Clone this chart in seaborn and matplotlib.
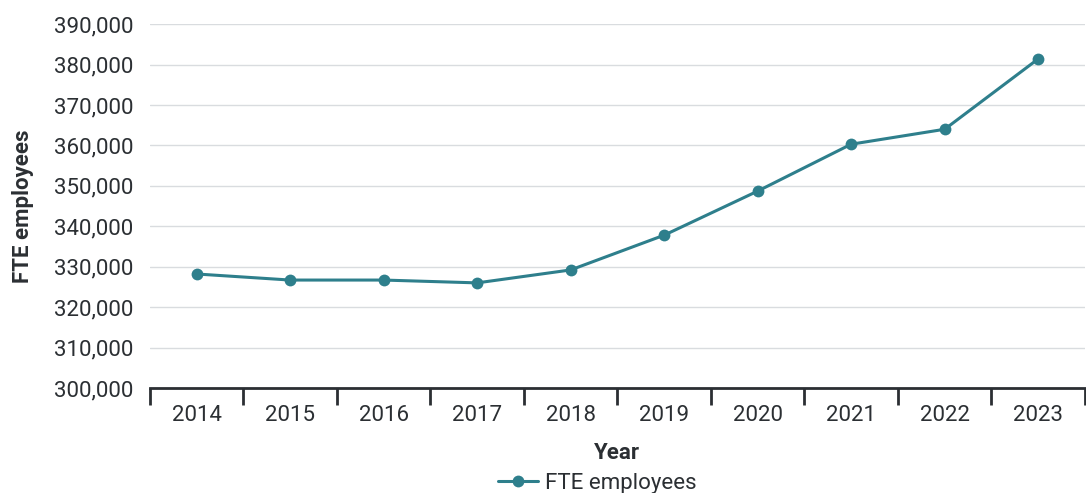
import matplotlib
matplotlib.use("Agg")
import matplotlib.pyplot as plt
import seaborn as sns
import pandas as pd
from matplotlib.ticker import FuncFormatter, FixedLocator

years = ["2014", "2015", "2016", "2017", "2018", "2019", "2020", "2021", "2022", "2023"]
fte = [328200, 326700, 326700, 326000, 329200, 337800, 348700, 360300, 364000, 381400]

teal = "#2E7F8C"
ink = "#2b2f33"

sns.set_theme(style="white")
plt.rcParams["font.family"] = ["Roboto", "DejaVu Sans"]

df = pd.DataFrame({"Year": years, "FTE employees": fte})

fig = plt.figure(figsize=(10.86, 4.93), dpi=100)
ax = fig.add_axes([0.138, 0.213, 0.861, 0.738])

sns.lineplot(data=df, x="Year", y="FTE employees", ax=ax, color=teal,
             marker="o", markersize=8.5, markeredgewidth=0, linewidth=2.2,
             label="FTE employees", sort=False, legend=False)

ax.set_ylim(300000, 390000)
ax.set_yticks(range(300000, 390001, 10000))
ax.yaxis.set_major_formatter(FuncFormatter(lambda v, p: f"{int(v):,}"))
ax.set_xlim(-0.5, len(years) - 0.5)

ax.grid(axis="y", color="#d9dcdf", linewidth=1)
ax.set_axisbelow(True)
for s in ["left", "right", "top"]:
    ax.spines[s].set_visible(False)
ax.spines["bottom"].set_color(ink)
ax.spines["bottom"].set_linewidth(2)

ax.xaxis.set_minor_locator(FixedLocator([i - 0.5 for i in range(len(years) + 1)]))
ax.tick_params(axis="x", which="major", length=0, pad=12, labelsize=16, labelcolor=ink)
ax.tick_params(axis="x", which="minor", length=12, width=2, color=ink, direction="out", bottom=True)
ax.tick_params(axis="y", length=0, pad=12, labelsize=16, labelcolor=ink)

ax.set_xlabel("Year", fontsize=16, fontweight="bold", color=ink, labelpad=12)
ax.set_ylabel("FTE employees", fontsize=16, fontweight="bold", color=ink, labelpad=14)

handles = ax.get_lines()[:1]
fig.legend(handles, ["FTE employees"], loc="center", bbox_to_anchor=(0.55, 0.02),
           frameon=False, fontsize=16, handlelength=1.8, handletextpad=0.3,
           labelcolor=ink, borderpad=0)

fig.savefig("out.png", dpi=100)
